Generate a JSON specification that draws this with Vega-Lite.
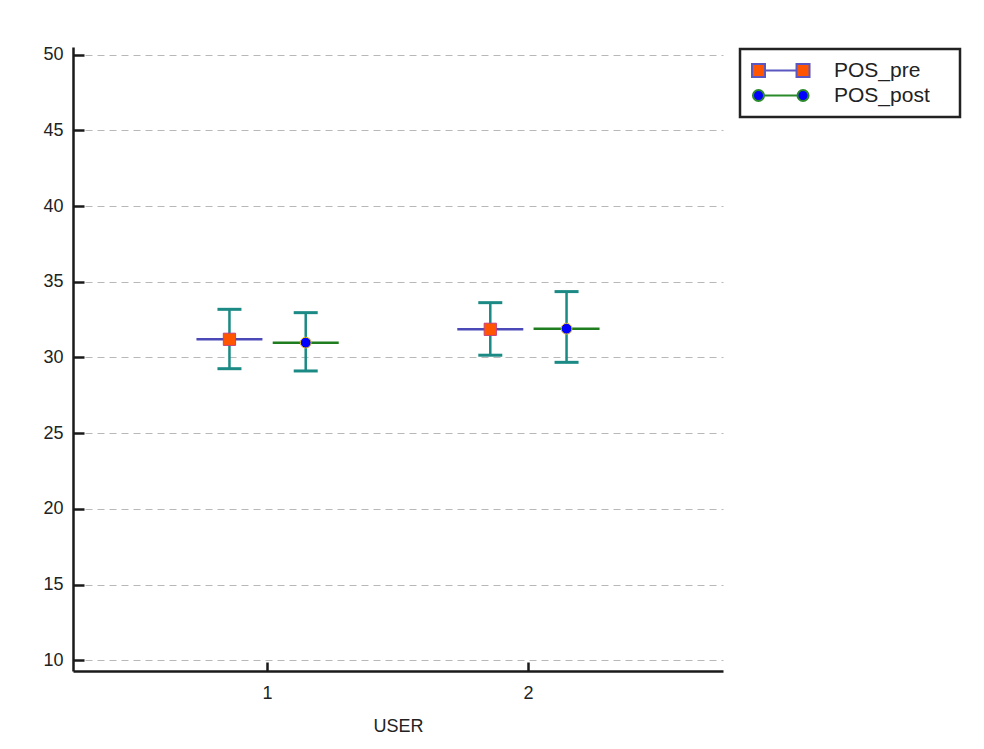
{
  "$schema": "https://vega.github.io/schema/vega-lite/v6.json",
  "width": 650,
  "height": 624,
  "autosize": {"type": "none"},
  "padding": {"left": 73, "top": 47, "right": 261, "bottom": 78},
  "background": "white",
  "config": {
    "view": {"stroke": null},
    "font": "Liberation Sans",
    "axis": {
      "domainColor": "#1a1a1a",
      "domainWidth": 2.5,
      "tickColor": "#1a1a1a",
      "tickWidth": 2.5,
      "labelColor": "#222222",
      "titleColor": "#222222",
      "labelFont": "Liberation Sans",
      "titleFont": "Liberation Sans"
    },
    "legend": {
      "orient": "none",
      "legendX": 667,
      "legendY": 2,
      "padding": 11,
      "strokeColor": "#222222",
      "strokeWidth": 2.5,
      "fillColor": "white",
      "symbolSize": 169,
      "symbolStrokeWidth": 2,
      "symbolOffset": -3,
      "symbolOpacity": 1,
      "labelOffset": 65,
      "labelFontSize": 21,
      "labelColor": "#222222",
      "rowPadding": 3,
      "titleOrient": "right",
      "titlePadding": 19
    }
  },
  "data": {
    "values": [
      {"USER": "1", "series": "POS_pre", "mean": 31.2, "lo": 29.26, "hi": 33.18},
      {"USER": "1", "series": "POS_post", "mean": 30.98, "lo": 29.11, "hi": 32.96},
      {"USER": "2", "series": "POS_pre", "mean": 31.86, "lo": 30.15, "hi": 33.62},
      {"USER": "2", "series": "POS_post", "mean": 31.9, "lo": 29.68, "hi": 34.35}
    ]
  },
  "encoding": {
    "x": {
      "field": "USER",
      "type": "ordinal",
      "scale": {"type": "band", "paddingInner": 0, "paddingOuter": 0.246},
      "axis": {
        "title": "USER",
        "labelAngle": 0,
        "labelFontSize": 18,
        "titleFontSize": 18,
        "titleFontWeight": "normal",
        "tickSize": -9,
        "labelPadding": 22,
        "titlePadding": 15
      }
    },
    "xOffset": {
      "field": "series",
      "type": "nominal",
      "sort": ["POS_pre", "POS_post"],
      "scale": {"paddingInner": 0, "paddingOuter": 0.71}
    },
    "y": {
      "type": "quantitative",
      "scale": {"domain": [9.3, 50.5], "nice": false, "zero": false},
      "axis": {
        "title": null,
        "values": [10, 15, 20, 25, 30, 35, 40, 45, 50],
        "labelFontSize": 18,
        "tickSize": -11,
        "labelPadding": 21,
        "grid": true,
        "gridColor": "#b8b8b8",
        "gridDash": [7, 5],
        "gridWidth": 1
      }
    }
  },
  "layer": [
    {
      "mark": {"type": "rule", "color": "#1b8a85", "strokeWidth": 2.5},
      "encoding": {"y": {"field": "lo", "type": "quantitative"}, "y2": {"field": "hi"}}
    },
    {
      "mark": {"type": "tick", "color": "#1b8a85", "size": 24, "thickness": 3, "opacity": 1},
      "encoding": {"y": {"field": "lo", "type": "quantitative"}}
    },
    {
      "mark": {"type": "tick", "color": "#1b8a85", "size": 24, "thickness": 3, "opacity": 1},
      "encoding": {"y": {"field": "hi", "type": "quantitative"}}
    },
    {
      "transform": [{"filter": "datum.series == 'POS_pre'"}],
      "mark": {"type": "tick", "size": 66, "thickness": 2.5, "opacity": 1, "color": "#4b48b8"},
      "encoding": {"y": {"field": "mean", "type": "quantitative"}}
    },
    {
      "transform": [{"filter": "datum.series == 'POS_post'"}],
      "mark": {"type": "tick", "size": 66, "thickness": 2.5, "opacity": 1, "color": "#1f7d1f"},
      "encoding": {"y": {"field": "mean", "type": "quantitative"}}
    },
    {
      "transform": [{"filter": "datum.series == 'POS_pre'"}],
      "mark": {"type": "point", "shape": "square", "filled": true, "fill": "#ff5500", "stroke": "#c8407a", "strokeWidth": 1, "size": 150, "opacity": 1},
      "encoding": {"y": {"field": "mean", "type": "quantitative"}}
    },
    {
      "transform": [{"filter": "datum.series == 'POS_post'"}],
      "mark": {"type": "point", "shape": "circle", "filled": true, "fill": "#0000ff", "stroke": "#e8c020", "strokeWidth": 1, "size": 115, "opacity": 1},
      "encoding": {"y": {"field": "mean", "type": "quantitative"}}
    },
    {
      "mark": {"type": "point", "filled": true, "opacity": 0},
      "encoding": {
        "y": {"field": "mean", "type": "quantitative"},
        "fill": {
          "field": "series",
          "type": "nominal",
          "title": " ",
          "scale": {"domain": ["POS_pre", "POS_post"], "range": ["#ff5500", "#0000ff"]}
        },
        "stroke": {
          "field": "series",
          "type": "nominal",
          "title": " ",
          "scale": {"domain": ["POS_pre", "POS_post"], "range": ["#5a58c0", "#2a8a2a"]}
        },
        "shape": {
          "field": "series",
          "type": "nominal",
          "title": " ",
          "scale": {
            "domain": ["POS_pre", "POS_post"],
            "range": [
              "M-1,-1H1V1H-1Z M5.85,-1H7.85V1H5.85Z M1,0H5.85",
              "M-0.85,0A0.85,0.85 0 1,0 0.85,0A0.85,0.85 0 1,0 -0.85,0Z M6,0A0.85,0.85 0 1,0 7.7,0A0.85,0.85 0 1,0 6,0Z M0.85,0H6"
            ]
          }
        }
      }
    }
  ]
}
